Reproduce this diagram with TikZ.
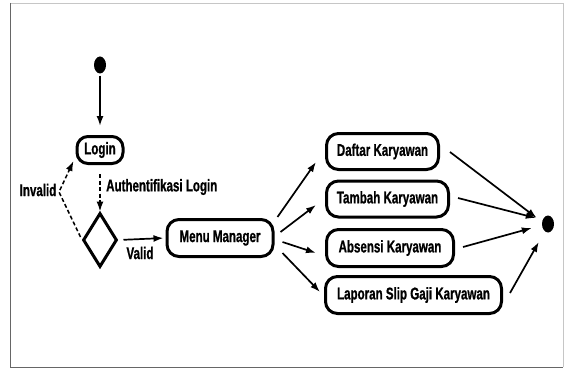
\documentclass[tikz,border=0pt]{standalone}
\usepackage{fontspec}
\setmainfont{Liberation Sans}[FakeStretch=0.68, BoldFeatures={FakeBold=0.8}]
\usetikzlibrary{shapes.geometric,arrows.meta}
\tikzset{
  actbox/.style={draw=black, line width=3pt, rounded corners=12pt, minimum height=36pt, inner sep=0pt, font=\bfseries\fontsize{17}{19}\selectfont, anchor=west},
  dot/.style={ellipse, fill=black, inner sep=0pt, minimum width=12pt, minimum height=17pt},
  arr/.style={line width=1.7pt, -{Latex[length=10pt,width=7pt]}},
  darr/.style={line width=1.5pt, dash pattern=on 4pt off 2.5pt, -{Latex[length=10pt,width=7pt]}},
  lbl/.style={font=\bfseries\fontsize{17}{19}\selectfont, inner sep=0pt}
}
\begin{document}
\begin{tikzpicture}[x=1pt,y=-1pt]
\useasboundingbox (0,0) rectangle (565,369);
\fill[white] (0,0) rectangle (565,369);
% frame
\draw[gray!45, line width=0.8pt] (10,3) -- (563,3) -- (563,367);
\draw[gray!80!black, line width=1pt] (10,3) -- (10,367) -- (563,367);

\node[dot] (start) at (100,65) {};
\node[actbox, anchor=center, minimum width=46pt, minimum height=27pt, rounded corners=11pt] (login) at (100,150) {Login};
\node[draw=black, line width=3pt, diamond, minimum width=34pt, minimum height=54pt, inner sep=0pt] (dec) at (100,240) {};
\node[actbox, minimum width=106pt, minimum height=37pt] (menu) at (165.5,238) {Menu Manager};
\node[actbox, minimum width=112pt] (daftar) at (325,151.5) {Daftar Karyawan};
\node[actbox, minimum width=122pt] (tambah) at (325,199) {Tambah Karyawan};
\node[actbox, minimum width=127pt, minimum height=37pt] (absensi) at (325,248) {Absensi Karyawan};
\node[actbox, minimum width=176pt, minimum height=37pt] (laporan) at (324,295) {Laporan Slip Gaji Karyawan};
\node[dot] (end) at (548,224) {};

\node[lbl, anchor=west] (auth) at (106,187) {Authentifikasi Login};
\node[lbl] (inv) at (38,190) {Invalid};
\node[lbl] (val) at (140,253) {Valid};

\draw[arr, shorten <=2pt, shorten >=9pt] (start.south) -- (login.north);
\draw[darr, shorten <=9pt] (login.south) -- (dec.north);
\draw[darr] ([shift={(-1,-3)}]dec.west) -- (59,192) -- ([shift={(-2,-4)}]login.south west);
\draw[arr, shorten <=5pt, shorten >=2pt] (dec.east) -- (menu.west);

\draw[arr] ([shift={(3,-21)}]menu.east) -- ([shift={(-9,10.5)}]daftar.west);
\draw[arr] ([shift={(6,-6)}]menu.east) -- ([shift={(-9,6)}]tambah.west);
\draw[arr] ([shift={(8,4)}]menu.east) -- ([shift={(-9,5)}]absensi.west);
\draw[arr] ([shift={(8,15)}]menu.east) -- ([shift={(-4,-3)}]laporan.west);

\draw[arr] ([shift={(10,0.5)}]daftar.east) -- ([shift={(-5,-6)}]end.west);
\draw[arr] ([shift={(8,-1)}]tambah.east) -- ([shift={(-6,-6)}]end.west);
\draw[arr] ([shift={(8,-1)}]absensi.east) -- ([shift={(-10,4)}]end.west);
\draw[arr] ([shift={(7,-2)}]laporan.east) -- ([shift={(-3,18)}]end.west);
\end{tikzpicture}
\end{document}
